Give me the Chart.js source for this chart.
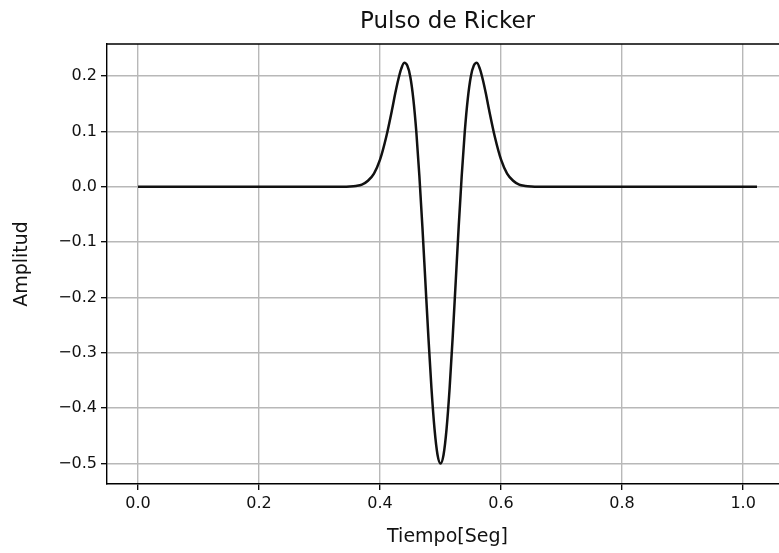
<!DOCTYPE html>
<html>
<head>
<meta charset="utf-8">
<script src="https://cdn.jsdelivr.net/npm/chart.js@4.4.0/dist/chart.umd.min.js"></script>
<style>
  html, body { margin: 0; padding: 0; background: #ffffff; overflow: hidden; }
  #wrap { width: 790px; height: 553px; }
</style>
</head>
<body>
<div id="wrap"><canvas id="c" width="790" height="553"></canvas></div>
<script>
// Ricker pulse samples: time in seconds and amplitude
const tiempo = [
  0.0, 0.1, 0.2, 0.3, 0.34, 0.35, 0.36, 0.37, 0.38, 0.39,
  0.40, 0.41, 0.42, 0.425, 0.43, 0.435, 0.44, 0.445, 0.45, 0.455,
  0.46, 0.465, 0.47, 0.475, 0.48, 0.485, 0.49, 0.495, 0.50,
  0.505, 0.51, 0.515, 0.52, 0.525, 0.53, 0.535, 0.54, 0.545, 0.55,
  0.555, 0.56, 0.565, 0.57, 0.575, 0.58, 0.59, 0.60, 0.61, 0.62,
  0.63, 0.64, 0.65, 0.66, 0.7, 0.8, 0.9, 1.0, 1.023
];
const amplitud = [
  0.0, 0.0, 0.0, 0.0, 0.0, 0.0005, 0.0016, 0.004, 0.011, 0.024,
  0.049, 0.089, 0.140, 0.168, 0.193, 0.213, 0.224, 0.219, 0.199, 0.159,
  0.099, 0.020, -0.072, -0.173, -0.273, -0.364, -0.437, -0.484, -0.500,
  -0.484, -0.437, -0.364, -0.273, -0.173, -0.072, 0.020, 0.099, 0.159, 0.199,
  0.219, 0.224, 0.213, 0.193, 0.168, 0.140, 0.089, 0.049, 0.024, 0.011,
  0.004, 0.0016, 0.0005, 0.0, 0.0, 0.0, 0.0, 0.0, 0.0
];
const xTicks = [0.0, 0.2, 0.4, 0.6, 0.8, 1.0];
const yTicks = [-0.5, -0.4, -0.3, -0.2, -0.1, 0.0, 0.1, 0.2];

const titulo = 'Pulso de Ricker';
const FONT = 'DejaVu Sans';

const fmt = v => {
  const s = Math.abs(v).toFixed(1);
  return v < -1e-9 ? '\u2212' + s : s;
};

// top/right spines and the centred title above the plot area
const framePlugin = {
  id: 'frame',
  afterDraw(chart) {
    const { ctx, chartArea: a } = chart;
    ctx.save();
    ctx.strokeStyle = '#000';
    ctx.lineWidth = 1.3;
    ctx.beginPath();
    ctx.moveTo(a.left, a.top);
    ctx.lineTo(a.right, a.top);
    ctx.lineTo(a.right, a.bottom);
    ctx.stroke();
    ctx.fillStyle = '#111';
    ctx.font = '23px "' + FONT + '"';
    ctx.textAlign = 'center';
    ctx.textBaseline = 'middle';
    ctx.fillText(titulo, (a.left + a.right) / 2, 22);
    ctx.restore();
  }
};

new Chart(document.getElementById('c'), {
  type: 'line',
  data: {
    datasets: [{
      data: tiempo.map((t, i) => ({ x: t, y: amplitud[i] })),
      borderColor: '#111111',
      borderWidth: 2.5,
      pointRadius: 0,
      fill: false,
      cubicInterpolationMode: 'monotone'
    }]
  },
  options: {
    responsive: false,
    animation: false,
    layout: { padding: { top: 44, right: 2, bottom: 0, left: 0 } },
    plugins: { legend: { display: false }, tooltip: { enabled: false }, title: { display: false } },
    scales: {
      x: {
        type: 'linear',
        min: -0.0512,
        max: 1.0742,
        afterBuildTicks: s => { s.ticks = xTicks.map(v => ({ value: v })); },
        afterFit: s => { s.height = 69; },
        grid: { color: '#b8b8b8', lineWidth: 1.4, tickLength: 6, tickColor: '#000', tickWidth: 1.3 },
        border: { color: '#000', width: 1.4 },
        ticks: { color: '#111', font: { family: FONT, size: 16 }, padding: 4, maxRotation: 0, autoSkip: false, callback: v => fmt(v) },
        title: { display: true, text: 'Tiempo[Seg]', color: '#111', font: { family: FONT, size: 19 }, padding: { top: 0, bottom: 5 } }
      },
      y: {
        type: 'linear',
        min: -0.537,
        max: 0.258,
        afterBuildTicks: s => { s.ticks = yTicks.map(v => ({ value: v })); },
        afterFit: s => { s.width = 107; },
        grid: { color: '#b8b8b8', lineWidth: 1.4, tickLength: 6, tickColor: '#000', tickWidth: 1.3 },
        border: { color: '#000', width: 1.4 },
        ticks: { color: '#111', font: { family: FONT, size: 16 }, padding: 4, autoSkip: false, callback: v => fmt(v) },
        title: { display: true, text: 'Amplitud', color: '#111', font: { family: FONT, size: 19 }, padding: { top: 11, bottom: 0 } }
      }
    }
  },
  plugins: [framePlugin]
});
</script>
</body>
</html>
